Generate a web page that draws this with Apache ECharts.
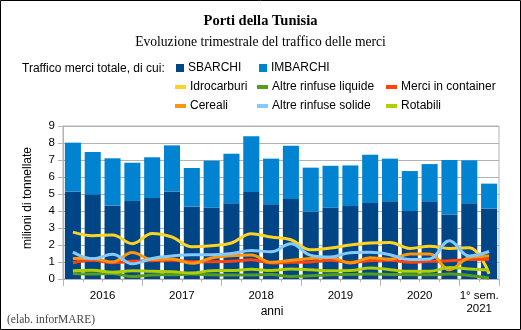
<!DOCTYPE html>
<html>
<head>
<meta charset="utf-8">
<script src="https://cdn.jsdelivr.net/npm/echarts@6/dist/echarts.min.js"></script>
<style>
html,body{margin:0;padding:0;background:#fff;}
#c{width:521px;height:330px;}
</style>
</head>
<body>
<div id="c"></div>
<script>
// ---- data ----
const quarters = ['2016 T1','2016 T2','2016 T3','2016 T4','2017 T1','2017 T2','2017 T3','2017 T4',
  '2018 T1','2018 T2','2018 T3','2018 T4','2019 T1','2019 T2','2019 T3','2019 T4',
  '2020 T1','2020 T2','2020 T3','2020 T4','2021 T1','2021 T2'];
const yearLabels = ['2016','2017','2018','2019','2020','1° sem.\n2021'];
const sbarchi  = [5.15,4.98,4.33,4.59,4.76,5.15,4.27,4.19,4.45,5.12,4.39,4.70,3.96,4.19,4.29,4.47,4.57,4.00,4.57,3.80,4.45,4.15];
const imbarchi = [2.87,2.49,2.77,2.25,2.40,2.71,2.26,2.77,2.92,3.27,2.69,3.14,2.59,2.47,2.39,2.84,2.51,2.35,2.19,3.20,2.53,1.46];
const idrocarburi        = [2.76,2.55,2.59,2.08,2.68,2.47,1.90,1.96,2.12,2.66,2.47,2.31,1.72,1.82,2.00,2.12,2.15,1.80,1.92,1.80,1.84,0.30];
const altreRinfuseLiquide= [0.32,0.29,0.33,0.14,0.24,0.25,0.29,0.25,0.24,0.24,0.26,0.15,0.19,0.25,0.27,0.29,0.27,0.25,0.25,0.29,0.21,0.06];
const merciContainer     = [0.96,1.10,0.95,1.04,1.08,1.10,1.02,1.02,1.04,1.13,0.94,0.98,1.00,1.10,0.98,1.08,1.10,0.98,1.04,1.08,1.14,1.16];
const cereali            = [1.20,1.20,1.00,1.56,1.14,1.18,0.92,1.23,1.37,1.41,0.98,1.10,1.21,1.27,0.94,1.25,1.16,1.47,1.47,0.55,1.26,1.35];
const altreRinfuseSolide = [1.58,1.19,1.45,0.89,1.21,1.35,1.43,1.43,1.50,1.68,1.60,2.07,1.39,1.29,1.55,1.57,1.43,1.14,1.18,2.25,1.36,1.62];
const rotabili           = [0.49,0.51,0.39,0.49,0.45,0.43,0.35,0.49,0.50,0.57,0.50,0.59,0.55,0.49,0.50,0.65,0.55,0.45,0.45,0.68,0.59,0.53];

// ---- chart ----
const SANS = '"Liberation Sans", Arial, sans-serif';
const SERIF = '"Liberation Serif", "Times New Roman", serif';
const GRIDC = '#b3b3b3';
const chart = echarts.init(document.getElementById('c'), null, {renderer:'canvas'});

const lineDefs = [
  ['Idrocarburi', idrocarburi, '#ffd320'],
  ['Altre rinfuse liquide', altreRinfuseLiquide, '#579d1c'],
  ['Merci in container', merciContainer, '#ff420e'],
  ['Cereali', cereali, '#ff950e'],
  ['Altre rinfuse solide', altreRinfuseSolide, '#83caff'],
  ['Rotabili', rotabili, '#aecf00']
];

const legendPos = [
  ['SBARCHI', 176, 69, true], ['IMBARCHI', 259, 69, true],
  ['Idrocarburi', 176, 88, false], ['Altre rinfuse liquide', 258, 88, false], ['Merci in container', 387, 88, false],
  ['Cereali', 176, 107, false], ['Altre rinfuse solide', 258, 107, false], ['Rotabili', 387, 107, false]
];
const legends = legendPos.map(([name, x, yc, isBar]) => ({
  data: [name], left: isBar ? x : x - 1, top: yc - 7, padding: 0,
  icon: 'rect', itemWidth: isBar ? 8 : 11, itemHeight: isBar ? 8 : 4, itemGap: 0,
  selectedMode: false,
  textStyle: {fontFamily: SANS, fontSize: 12, color: '#000', padding: [0,0,0,-1]}
}));

const series = [
  {name:'SBARCHI', type:'bar', stack:'tot', data:sbarchi, barCategoryGap:'19%',
   itemStyle:{color:'#004586'}, xAxisIndex:0},
  {name:'IMBARCHI', type:'bar', stack:'tot', data:imbarchi,
   itemStyle:{color:'#0084d1'}, xAxisIndex:0}
].concat(lineDefs.map(([name, arr, col]) => ({
  name, type:'line', data:arr, smooth:0.4, showSymbol:false, symbol:'none',
  lineStyle:{color:col, width:3}, itemStyle:{color:col}, xAxisIndex:0, z:3
})));

const option = {
  backgroundColor:'#fff',
  animation:false,
  title:[
    {text:'Porti della Tunisia', left:'center', top:9,
     textStyle:{fontFamily:SERIF, fontSize:14.5, fontWeight:'bold', color:'#000'}},
    {text:'Evoluzione trimestrale del traffico delle merci', left:'center', top:30,
     textStyle:{fontFamily:SERIF, fontSize:13.6, fontWeight:'normal', color:'#000'}}
  ],
  legend: legends,
  grid:{left:63, right:22, top:126, bottom:51, show:true, borderColor:GRIDC, borderWidth:1, backgroundColor:'transparent'},
  xAxis:[
    {type:'category', data:quarters, boundaryGap:true,
     axisLine:{lineStyle:{color:GRIDC}}, axisTick:{show:true, interval:0, length:3, lineStyle:{color:GRIDC}},
     axisLabel:{show:false}, splitLine:{show:false}},
    {type:'value', min:0, max:quarters.length, position:'bottom',
     axisLine:{show:false}, splitLine:{show:false},
     axisTick:{show:true, length:7, lineStyle:{color:GRIDC}, customValues:[0,4,8,12,16,20,22]},
     axisLabel:{show:true, margin:10, fontFamily:SANS, fontSize:11.5, color:'#000', lineHeight:13,
       customValues:[2,6,10,14,18,21],
       formatter:(v)=>{const m={2:0,6:1,10:2,14:3,18:4,21:5}; return m[v]!==undefined? yearLabels[m[v]] : '';}}}
  ],
  yAxis:{type:'value', min:0, max:9, interval:1,
    axisLine:{show:true, lineStyle:{color:GRIDC}},
    axisTick:{show:true, length:5, lineStyle:{color:GRIDC}},
    axisLabel:{fontFamily:SANS, fontSize:11.5, color:'#000', margin:8},
    splitLine:{lineStyle:{color:GRIDC}}},
  graphic:[
    {type:'rect', shape:{x:0.5, y:0.5, width:520, height:329}, style:{fill:'none', stroke:'#000', lineWidth:1}, silent:true},
    {type:'text', x:22, y:69, style:{text:'Traffico merci totale, di cui:', fontFamily:SANS, fontSize:12, fill:'#000', verticalAlign:'middle'}},
    {type:'text', x:28, y:198, rotation:Math.PI/2, style:{text:'milioni di tonnellate', fontFamily:SANS, fontSize:12, fill:'#000', align:'center', verticalAlign:'middle'}},
    {type:'text', x:272, y:312, style:{text:'anni', fontFamily:SANS, fontSize:12, fill:'#000', align:'center', verticalAlign:'middle'}},
    {type:'text', x:7, y:320, style:{text:'(elab. inforMARE)', fontFamily:SERIF, fontSize:11.5, fill:'#444', verticalAlign:'middle'}}
  ],
  series
};
chart.setOption(option);
</script>
</body>
</html>
